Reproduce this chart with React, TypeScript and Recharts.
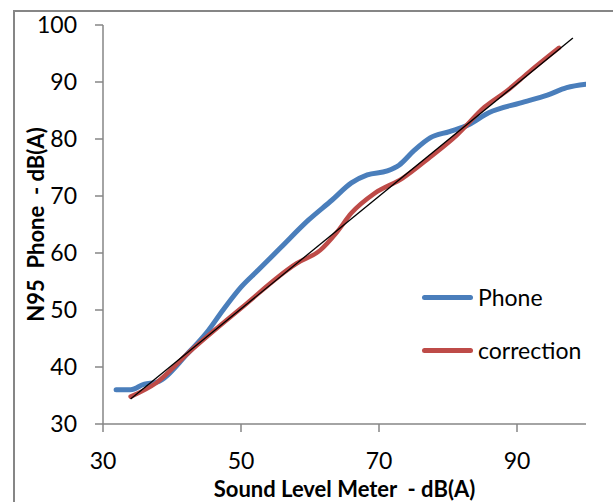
import * as React from 'react';
import { LineChart, Line, XAxis, YAxis } from 'recharts';

// values
const phoneX = [31.9, 34, 36, 37.7, 42.3, 45, 47.4, 50, 52.5, 55.8, 59.8, 63.2, 66, 68.3, 71.2, 72.9, 75.1, 77.4, 80.2, 83, 85.9, 90.4, 94.4, 97.2, 100];
const phoneY = [36, 36, 37, 37.3, 42.4, 46, 50, 54, 57, 61, 65.8, 69.3, 72.3, 73.7, 74.4, 75.4, 78, 80.2, 81.3, 82.5, 84.6, 86.3, 87.7, 89, 89.6];

const correctionX = [34, 37.7, 42.3, 50, 58.1, 61.5, 63.8, 66, 69.4, 73.4, 77.4, 81.3, 85.3, 88.7, 91.6, 96.1];
const correctionY = [34.8, 37.2, 42.4, 50.3, 58.2, 60.5, 63.5, 67, 70.5, 73.1, 76.8, 80.7, 85.6, 88.6, 91.6, 96];

const fitX = [34, 98.1];
const fitY = [34.4, 97.7];

const xTicks = [30, 50, 70, 90];
const yTicks = [30, 40, 50, 60, 70, 80, 90, 100];

const seriesNames = ['Phone', 'correction'];
const seriesColors = ['#4A7EBB', '#BE4B48'];

const toRows = (xs: number[], ys: number[]) => xs.map((x, i) => ({ x, y: ys[i] }));

const phoneData = toRows(phoneX, phoneY);
const correctionData = toRows(correctionX, correctionY);
const fitData = toRows(fitX, fitY);

const AXIS = '#868686';
const FONT = 'Lato, "Open Sans", sans-serif';

const App: React.FC = () => {
    return (
        <div style={{ position: 'absolute', left: 0, top: 0, width: 613, height: 502, overflow: 'hidden', background: '#fff' }}>
            <div style={{ position: 'absolute', left: 13, top: 10, width: 640, height: 520, border: `2px solid ${AXIS}` }} />
            <LineChart width={613} height={502} margin={{ top: 25, right: 27, left: 0, bottom: 0 }}>
                <XAxis
                    dataKey="x"
                    type="number"
                    domain={[30, 100]}
                    ticks={xTicks}
                    allowDataOverflow
                    height={78}
                    stroke={AXIS}
                    strokeWidth={1.5}
                    tickSize={8}
                    tickMargin={21}
                    tick={{ fill: '#000', fontSize: 23, fontFamily: FONT }}
                    label={{ value: 'Sound Level Meter\u00A0\u00A0- dB(A)', position: 'insideBottom', offset: 5, fill: '#000', fontSize: 22, fontWeight: 'bold', fontFamily: FONT }}
                />
                <YAxis
                    type="number"
                    domain={[30, 100]}
                    ticks={yTicks}
                    width={103}
                    stroke={AXIS}
                    strokeWidth={1.5}
                    tickSize={8}
                    tickMargin={18}
                    tick={{ fill: '#000', fontSize: 23, fontFamily: FONT }}
                    label={{ value: 'N95\u00A0\u00A0Phone\u00A0\u00A0- dB(A)', angle: -90, position: 'insideLeft', offset: 36, fill: '#000', fontSize: 22, fontWeight: 'bold', fontFamily: FONT, style: { textAnchor: 'middle' } }}
                />
                <Line data={phoneData} dataKey="y" name="Phone" type="monotone" stroke={seriesColors[0]} strokeWidth={5} dot={false} isAnimationActive={false} strokeLinecap="round" />
                <Line data={correctionData} dataKey="y" name="correction" type="monotone" stroke={seriesColors[1]} strokeWidth={4.5} dot={false} isAnimationActive={false} strokeLinecap="round" />
                <Line data={fitData} dataKey="y" name="fit" type="linear" stroke="#000" strokeWidth={1.3} dot={false} isAnimationActive={false} />
            </LineChart>
            <div style={{ position: 'absolute', left: 422, top: 281, fontFamily: FONT, fontSize: 23, color: '#000' }}>
                {seriesNames.map((name, i) => (
                    <div key={name} style={{ display: 'flex', alignItems: 'center', height: 32, marginBottom: i === 0 ? 21 : 0 }}>
                        <div style={{ width: 51, height: 5, borderRadius: 3, background: seriesColors[i], marginRight: 5 }} />
                        <span>{name}</span>
                    </div>
                ))}
            </div>
        </div>
    );
};

export default App;
